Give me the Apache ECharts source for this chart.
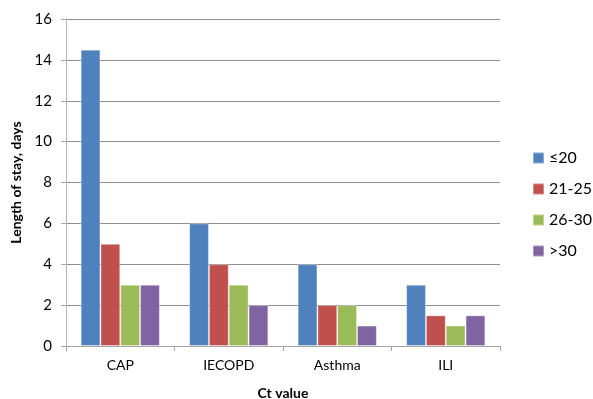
<!DOCTYPE html>
<html>
<head>
<meta charset="utf-8">
<script src="https://cdn.jsdelivr.net/npm/echarts@6/dist/echarts.min.js"></script>
<style>
  html, body { margin: 0; padding: 0; background: #fff; }
  #chart { width: 593px; height: 399px; }
</style>
</head>
<body>
<div id="chart"></div>
<script>
// Length of stay by Ct value group, per diagnosis
const categories = ['CAP', 'IECOPD', 'Asthma', 'ILI'];
const seriesNames = ['≤20', '21-25', '26-30', '>30'];
const ctLe20 = [14.5, 6, 4, 3];
const ct21to25 = [5, 4, 2, 1.5];
const ct26to30 = [3, 3, 2, 1];
const ctGt30 = [3, 2, 1, 1.5];
const yTicks = [0, 2, 4, 6, 8, 10, 12, 14, 16];

const values = [ctLe20, ct21to25, ct26to30, ctGt30];
const colors = ['#4F81BD', '#C0504D', '#9BBB59', '#8064A2'];
const FONT = 'Lato, "Open Sans", sans-serif';

const chart = echarts.init(document.getElementById('chart'), null, { renderer: 'canvas' });

chart.setOption({
  animation: false,
  textStyle: { fontFamily: FONT },
  grid: { left: 66, right: 93, top: 19, bottom: 53, containLabel: false, outerBoundsMode: 'none' },
  legend: {
    orient: 'vertical',
    left: 532,
    top: 150,
    padding: 0,
    itemWidth: 11,
    itemHeight: 11,
    itemGap: 15,
    icon: 'rect',
    textStyle: { fontSize: 16, color: '#000', fontFamily: FONT },
    data: seriesNames
  },
  xAxis: {
    type: 'category',
    data: categories,
    name: 'Ct value',
    nameLocation: 'middle',
    nameGap: 40,
    nameTextStyle: { fontSize: 14, fontWeight: 'bold', color: '#000', fontFamily: FONT },
    axisLine: { lineStyle: { color: '#a6a6a6', width: 1 } },
    axisTick: { show: true, length: 5, lineStyle: { color: '#a6a6a6' } },
    axisLabel: { fontSize: 14, color: '#000', margin: 12, fontFamily: FONT },
    splitLine: { show: false }
  },
  yAxis: {
    type: 'value',
    min: yTicks[0],
    max: yTicks[yTicks.length - 1],
    interval: 2,
    name: 'Length of stay, days',
    nameLocation: 'middle',
    nameGap: 43,
    nameRotate: 90,
    nameTextStyle: { fontSize: 14, fontWeight: 'bold', color: '#000', fontFamily: FONT },
    axisLine: { show: true, lineStyle: { color: '#b3b3b3', width: 1 } },
    axisTick: { show: true, length: 5, lineStyle: { color: '#a6a6a6' } },
    axisLabel: { fontSize: 15, color: '#000', margin: 14, fontFamily: FONT },
    splitLine: { show: true, lineStyle: { color: '#8f8f8f', width: 1 } }
  },
  series: seriesNames.map((name, i) => ({
    name: name,
    type: 'bar',
    data: values[i],
    barGap: '0%',
    barCategoryGap: '27%',
    itemStyle: {
      color: colors[i],
      borderColor: 'rgba(255,255,255,0.35)',
      borderWidth: 1
    }
  }))
});
</script>
</body>
</html>
